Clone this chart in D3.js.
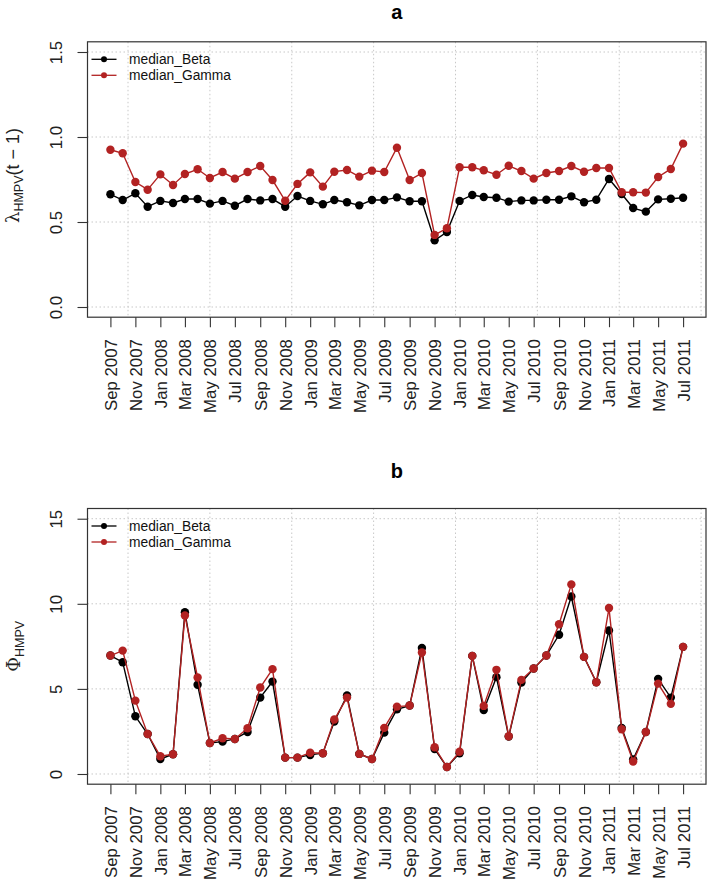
<!DOCTYPE html>
<html>
<head>
<meta charset="utf-8">
<script src="https://cdn.jsdelivr.net/npm/d3@7"></script>
<style>
  html, body { margin: 0; padding: 0; background: #fff; }
  svg { display: block; font-family: "Liberation Sans", Arial, Helvetica, sans-serif; }
</style>
</head>
<body>
<svg id="chart" width="709" height="883"></svg>
<script>
// ---------- data ----------
const months = ["2007-09","2007-10","2007-11","2007-12","2008-01","2008-02","2008-03","2008-04","2008-05","2008-06",
  "2008-07","2008-08","2008-09","2008-10","2008-11","2008-12","2009-01","2009-02","2009-03","2009-04",
  "2009-05","2009-06","2009-07","2009-08","2009-09","2009-10","2009-11","2009-12","2010-01","2010-02",
  "2010-03","2010-04","2010-05","2010-06","2010-07","2010-08","2010-09","2010-10","2010-11","2010-12",
  "2011-01","2011-02","2011-03","2011-04","2011-05","2011-06","2011-07"];

const lambdaBeta = [0.663,0.629,0.669,0.590,0.624,0.612,0.635,0.635,0.608,0.624,
  0.596,0.635,0.627,0.635,0.590,0.653,0.624,0.604,0.629,0.616,
  0.598,0.629,0.629,0.645,0.622,0.622,0.392,0.441,0.624,0.659,
  0.647,0.643,0.620,0.627,0.627,0.631,0.631,0.651,0.616,0.631,
  0.753,0.665,0.582,0.561,0.633,0.637,0.643];
const lambdaGamma = [0.925,0.904,0.735,0.690,0.780,0.718,0.782,0.810,0.759,0.794,
  0.755,0.794,0.829,0.747,0.625,0.724,0.792,0.708,0.796,0.806,
  0.767,0.802,0.794,0.937,0.747,0.788,0.424,0.463,0.822,0.822,
  0.804,0.778,0.831,0.800,0.755,0.788,0.800,0.829,0.796,0.818,
  0.818,0.675,0.675,0.673,0.765,0.812,0.961];

const phiBeta = [6.96,6.57,3.39,2.35,0.88,1.16,9.51,5.24,1.82,1.90,
  2.06,2.47,4.49,5.43,0.96,0.96,1.12,1.22,3.08,4.61,
  1.18,0.88,2.43,3.80,4.02,7.41,1.47,0.41,1.22,6.94,
  3.76,5.69,2.20,5.37,6.20,6.96,8.18,10.43,6.88,5.39,
  8.43,2.71,0.86,2.47,5.59,4.49,7.47];
const phiGamma = [6.96,7.25,4.31,2.35,1.04,1.16,9.31,5.67,1.82,2.10,
  2.06,2.69,5.08,6.16,0.96,0.96,1.25,1.22,3.20,4.49,
  1.18,0.88,2.71,3.96,4.02,7.14,1.57,0.41,1.31,6.94,
  4.00,6.12,2.22,5.53,6.20,6.96,8.80,11.14,6.88,5.39,
  9.75,2.63,0.73,2.47,5.31,4.12,7.47];

const xTickMonths = ["2007-09","2007-11","2008-01","2008-03","2008-05","2008-07","2008-09","2008-11",
  "2009-01","2009-03","2009-05","2009-07","2009-09","2009-11","2010-01","2010-03","2010-05","2010-07",
  "2010-09","2010-11","2011-01","2011-03","2011-05","2011-07"];
// vertical grid positions (days since 1970-01-01, as R's default date axis ticks)
const xGridDays = [13800,14000,14200,14400,14600,14800,15000,15200];

const yTicksA = [0, 0.5, 1.0, 1.5];
const yTickLabelsA = ["0.0","0.5","1.0","1.5"];
const yTicksB = [0, 5, 10, 15];
const yTickLabelsB = ["0","5","10","15"];

const seriesNames = ["median_Beta","median_Gamma"];
const seriesColors = ["#000000","#b22222"];

// ---------- drawing ----------
const svg = d3.select("#chart");
const parseMonth = d3.utcParse("%Y-%m");
const fmt = d3.utcFormat("%b %Y");
const dates = months.map(parseMonth);

const left = 87.5, right = 706;
const dMin = dates[0], dMax = dates[dates.length - 1];
const span = dMax - dMin;
const x = d3.scaleUtc()
  .domain([new Date(+dMin - 0.04 * span), new Date(+dMax + 0.04 * span)])
  .range([left, right]);

function panel(opts) {
  const { top, bottom, yMax, yTicks, yLabels, series, title, titleY, yLabelFn } = opts;
  const ext = 0.04 * yMax;
  const y = d3.scaleLinear().domain([-ext, yMax + ext]).range([bottom, top]);
  const g = svg.append("g");

  // grid
  const grid = g.append("g").attr("stroke", "#c8c8c8").attr("stroke-width", 1)
    .attr("stroke-dasharray", "1.5,2.5").attr("fill", "none");
  grid.selectAll("line.h").data(yTicks).join("line").attr("class", "h")
    .attr("x1", left).attr("x2", right)
    .attr("y1", d => y(d)).attr("y2", d => y(d));
  grid.selectAll("line.v").data(xGridDays).join("line").attr("class", "v")
    .attr("x1", d => x(new Date(d * 864e5))).attr("x2", d => x(new Date(d * 864e5)))
    .attr("y1", top).attr("y2", bottom);

  // series
  const line = d3.line().x((d, i) => x(dates[i])).y(d => y(d));
  series.forEach((vals, k) => {
    g.append("path").datum(vals).attr("d", line)
      .attr("fill", "none").attr("stroke", seriesColors[k]).attr("stroke-width", 1.4);
    g.append("g").selectAll("circle").data(vals).join("circle")
      .attr("cx", (d, i) => x(dates[i])).attr("cy", d => y(d)).attr("r", 4.2)
      .attr("fill", seriesColors[k]);
  });

  // box
  g.append("rect").attr("x", left).attr("y", top)
    .attr("width", right - left).attr("height", bottom - top)
    .attr("fill", "none").attr("stroke", "#333").attr("stroke-width", 1.2);

  // y axis
  const yAxis = d3.axisLeft(y).tickValues(yTicks).tickSize(10).tickPadding(0)
    .tickFormat((d, i) => yLabels[i]);
  const ya = g.append("g").attr("transform", `translate(${left},0)`).call(yAxis);
  ya.select(".domain").remove();
  ya.selectAll(".tick line").attr("stroke", "#333").attr("stroke-width", 1.1);
  ya.selectAll(".tick text")
    .attr("x", 0).attr("dy", null)
    .attr("transform", "translate(-26,0) rotate(-90)")
    .attr("text-anchor", "middle").attr("font-size", 16.8).attr("fill", "#222");

  // x axis
  const xAxis = d3.axisBottom(x).tickValues(xTickMonths.map(parseMonth)).tickSize(10)
    .tickFormat(fmt);
  const xa = g.append("g").attr("transform", `translate(0,${bottom})`).call(xAxis);
  xa.select(".domain").remove();
  xa.selectAll(".tick line").attr("stroke", "#333").attr("stroke-width", 1.1);
  xa.selectAll(".tick text")
    .attr("y", 0).attr("dy", null).attr("x", 0)
    .attr("transform", "translate(6,22) rotate(-90)")
    .attr("text-anchor", "end").attr("font-size", 16.8).attr("fill", "#222");

  // y label
  yLabelFn(g, (top + bottom) / 2);

  // title
  g.append("text").attr("x", (left + right) / 2).attr("y", titleY)
    .attr("text-anchor", "middle").attr("font-weight", "bold").attr("font-size", 20)
    .text(title);

  // legend
  const lg = g.append("g");
  seriesNames.forEach((name, k) => {
    const ly = top + 17.5 + k * 16;
    lg.append("line").attr("x1", 91.5).attr("x2", 116.5).attr("y1", ly).attr("y2", ly)
      .attr("stroke", seriesColors[k]).attr("stroke-width", 1.3);
    lg.append("circle").attr("cx", 104).attr("cy", ly).attr("r", 3).attr("fill", seriesColors[k]);
    lg.append("text").attr("x", 129).attr("y", ly).attr("dy", "0.35em")
      .attr("font-size", 13.8).attr("fill", "#111").text(name);
  });
}

panel({
  top: 41.8, bottom: 317.2, yMax: 1.5, yTicks: yTicksA, yLabels: yTickLabelsA,
  series: [lambdaBeta, lambdaGamma], title: "a", titleY: 18.5,
  yLabelFn: (g, cy) => {
    const t = g.append("text").attr("transform", `translate(19,${cy - 4}) rotate(-90)`)
      .attr("text-anchor", "middle").attr("font-size", 18).attr("fill", "#222");
    t.append("tspan").attr("font-family", "DejaVu Serif, serif").text("λ");
    t.append("tspan").attr("font-size", 12.5).attr("dy", 4).text("HMPV");
    t.append("tspan").attr("dy", -4).text("(t − 1)");
  }
});

panel({
  top: 508.5, bottom: 784.2, yMax: 15, yTicks: yTicksB, yLabels: yTickLabelsB,
  series: [phiBeta, phiGamma], title: "b", titleY: 478,
  yLabelFn: (g, cy) => {
    const t = g.append("text").attr("transform", `translate(20,${cy}) rotate(-90)`)
      .attr("text-anchor", "middle").attr("font-size", 18).attr("fill", "#222");
    t.append("tspan").attr("font-family", "DejaVu Serif, serif").text("Φ");
    t.append("tspan").attr("font-size", 12.5).attr("dy", 4).text("HMPV");
  }
});
</script>
</body>
</html>
